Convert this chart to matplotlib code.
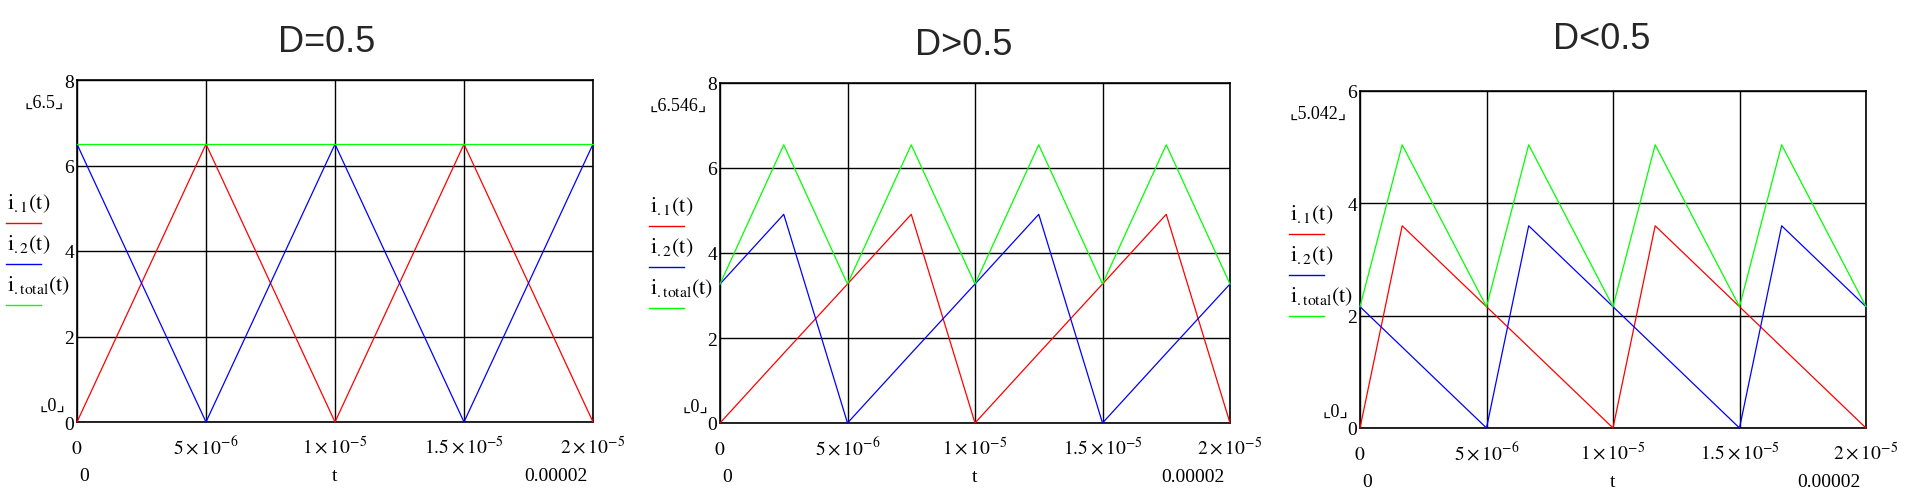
#!/usr/bin/env python3
import matplotlib
matplotlib.use("Agg")
import matplotlib.pyplot as plt
from matplotlib.lines import Line2D

# corner points of the three waveforms, time in seconds, current in A
t_half = [0, 5e-6, 1e-5, 1.5e-5, 2e-5]
i1_half = [0, 6.5, 0, 6.5, 0]
i2_half = [6.5, 0, 6.5, 0, 6.5]
itot_half = [6.5, 6.5, 6.5, 6.5, 6.5]

t_high = [0, 2.5e-6, 5e-6, 7.5e-6, 1e-5, 1.25e-5, 1.5e-5, 1.75e-5, 2e-5]
i1_high = [0, 1.64, 3.27, 4.91, 0, 1.64, 3.27, 4.91, 0]
i2_high = [3.27, 4.91, 0, 1.64, 3.27, 4.91, 0, 1.64, 3.27]
itot_high = [3.27, 6.546, 3.27, 6.546, 3.27, 6.546, 3.27, 6.546, 3.27]

t_low = [0, 1.667e-6, 5e-6, 6.667e-6, 1e-5, 1.1667e-5, 1.5e-5, 1.6667e-5, 2e-5]
i1_low = [0, 3.60, 2.16, 1.44, 0, 3.60, 2.16, 1.44, 0]
i2_low = [2.16, 1.44, 0, 3.60, 2.16, 1.44, 0, 3.60, 2.16]
itot_low = [2.16, 5.042, 2.16, 5.042, 2.16, 5.042, 2.16, 5.042, 2.16]

titles = ["D=0.5", "D>0.5", "D<0.5"]
y_tops = [8, 8, 6]
y_marks = ["6.5", "6.546", "5.042"]

x_ticks = [0, 5e-6, 1e-5, 1.5e-5, 2e-5]
x_tick_labels = ["$0$", r"$5\times10^{-6}$", r"$1\times10^{-5}$",
                 r"$1.5\times10^{-5}$", r"$2\times10^{-5}$"]
legend_labels = [r"$\mathrm{i}_{.1}(\mathrm{t})$",
                 r"$\mathrm{i}_{.2}(\mathrm{t})$",
                 r"$\mathrm{i}_{.\mathrm{total}}(\mathrm{t})$"]
colors = ["#ff0000", "#0000ff", "#00ff00"]

W, H = 1920, 502

plt.rcParams["font.family"] = ["Liberation Serif", "DejaVu Sans"]
plt.rcParams["mathtext.fontset"] = "stix"

fig = plt.figure(figsize=(W / 100, H / 100), dpi=100)

# axes boxes in pixels: left, top, right, bottom
boxes = [(77, 81, 593, 423), (720, 84, 1230, 424), (1360, 92, 1866, 429)]
title_pos = [(327, 52), (964, 55), (1602, 49)]


def fx(x):
    return x / W


def fy(y):
    return 1 - y / H


def draw_panel(box, t, i1, i2, itot, ytop, ymark, title, tpos):
    left, top, right, bottom = box
    ax = fig.add_axes([fx(left), fy(bottom), (right - left) / W, (bottom - top) / H])

    for vals, c in zip([i1, i2, itot], colors):
        ax.plot(t, vals, color=c, lw=0.9, clip_on=False, zorder=3)

    ax.set_xlim(0, 2e-5)
    ax.set_ylim(0, ytop)
    ax.set_xticks(x_ticks)
    ax.set_xticklabels([])
    ax.set_yticks(range(0, ytop + 1, 2))
    ax.tick_params(length=0, labelsize=14, pad=2)
    ax.grid(True, color="black", lw=1.0)
    for s in ax.spines.values():
        s.set_linewidth(1.2)

    for tx, lbl in zip(x_ticks, x_tick_labels):
        ax.annotate(lbl, xy=(tx, 0), xycoords=("data", "axes fraction"),
                    xytext=(0, -31), textcoords="offset pixels",
                    ha="center", va="baseline", fontsize=14)

    # second row under the axis: range and variable name
    ax.annotate("0", xy=(0, 0), xycoords="axes fraction", xytext=(7, -58),
                textcoords="offset pixels", ha="center", va="baseline", fontsize=14)
    ax.annotate("t", xy=(0.5, 0), xycoords="axes fraction", xytext=(0, -58),
                textcoords="offset pixels", ha="center", va="baseline", fontsize=14)
    ax.annotate("0.00002", xy=(1, 0), xycoords="axes fraction", xytext=(-5, -58),
                textcoords="offset pixels", ha="right", va="baseline", fontsize=14)

    # y range markers
    ax.annotate("\u231e" + ymark + "\u231f", xy=(0, 1), xycoords="axes fraction",
                xytext=(-13, -22), textcoords="offset pixels",
                ha="right", va="center", fontsize=13)
    ax.annotate("\u231e0\u231f", xy=(0, 0), xycoords="axes fraction",
                xytext=(-12, 17), textcoords="offset pixels",
                ha="right", va="center", fontsize=13)

    # legend on the left
    for k, (lbl, c) in enumerate(zip(legend_labels, colors)):
        ly = top + 143 + 41 * k
        fig.add_artist(Line2D([fx(left - 71), fx(left - 36)], [fy(ly), fy(ly)],
                              color=c, lw=1.0))
        fig.text(fx(left - 70), fy(ly - 15), lbl, ha="left", va="baseline",
                 fontsize=16)

    fig.text(fx(tpos[0]), fy(tpos[1]), title, ha="center", va="baseline",
             fontsize=26, color="#262626", family="Liberation Sans")
    return ax


draw_panel(boxes[0], t_half, i1_half, i2_half, itot_half,
           y_tops[0], y_marks[0], titles[0], title_pos[0])
draw_panel(boxes[1], t_high, i1_high, i2_high, itot_high,
           y_tops[1], y_marks[1], titles[1], title_pos[1])
draw_panel(boxes[2], t_low, i1_low, i2_low, itot_low,
           y_tops[2], y_marks[2], titles[2], title_pos[2])

fig.savefig("out.png", dpi=100)
